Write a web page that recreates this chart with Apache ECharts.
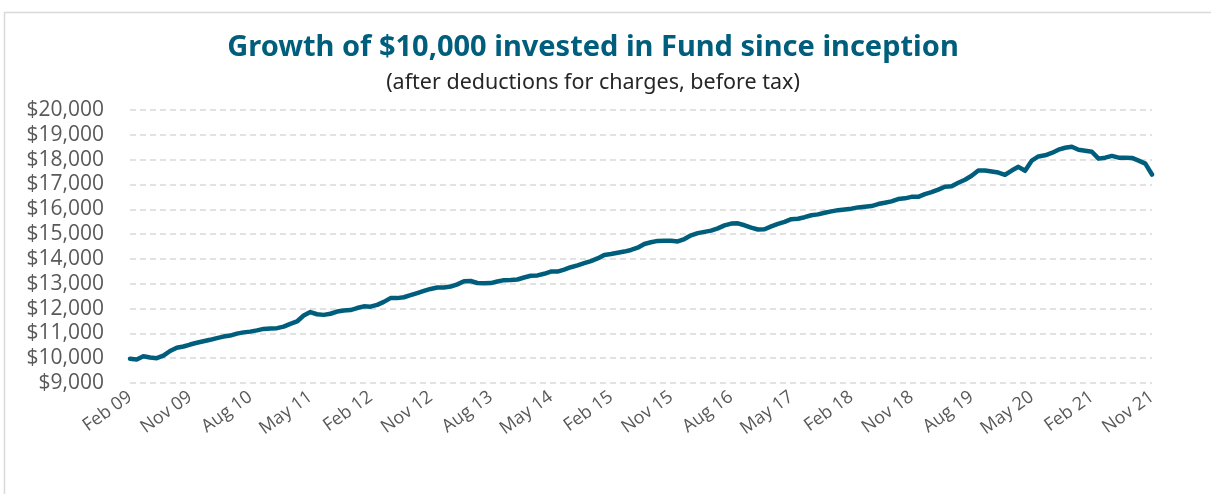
<!DOCTYPE html>
<html>
<head>
<meta charset="utf-8">
<script src="https://cdn.jsdelivr.net/npm/echarts@6/dist/echarts.min.js"></script>
<style>
  html, body { margin: 0; padding: 0; background: #ffffff; }
  #chart { width: 1211px; height: 494px; }
</style>
</head>
<body>
<div id="chart"></div>
<script>
// monthly, Feb 09 .. Nov 21
var monthNames = ['Jan', 'Feb', 'Mar', 'Apr', 'May', 'Jun', 'Jul', 'Aug', 'Sep', 'Oct', 'Nov', 'Dec'];
var firstYear = 2009, firstMonth = 1;

var fundValues = [
  9980, 9950, 10080, 10030, 10000, 10100, 10290, 10420, 10470, 10550,
  10620, 10680, 10740, 10810, 10870, 10910, 10990, 11040, 11070, 11120,
  11180, 11200, 11210, 11270, 11380, 11480, 11720, 11860, 11770, 11745,
  11790, 11880, 11925, 11940, 12020, 12090, 12075, 12150, 12270, 12420,
  12420, 12455, 12540, 12625, 12710, 12790, 12845, 12850, 12885, 12975,
  13100, 13110, 13030, 13015, 13025, 13090, 13145, 13150, 13170, 13250,
  13320, 13335, 13400, 13490, 13490, 13570, 13665, 13740, 13830, 13910,
  14020, 14160, 14195, 14250, 14295, 14360, 14450, 14600, 14670, 14725,
  14730, 14730, 14705, 14800, 14950, 15040, 15090, 15140, 15230, 15350,
  15425, 15435, 15355, 15260, 15185, 15195, 15310, 15410, 15490, 15600,
  15620, 15680, 15760, 15795, 15860, 15915, 15965, 15995, 16025, 16075,
  16105, 16130, 16210, 16265, 16320, 16410, 16440, 16500, 16500, 16610,
  16690, 16790, 16910, 16930, 17070, 17190, 17350, 17560, 17560, 17520,
  17480, 17390, 17560, 17710, 17550, 17960, 18130, 18175, 18270, 18400,
  18480, 18520, 18400, 18360, 18320, 18040, 18080, 18150, 18080, 18080,
  18070, 17960, 17840, 17400
];

var yMin = 9000, yMax = 20000, yStep = 1000;

var categories = [];
for (var i = 0; i < fundValues.length; i++) {
  var m = (firstMonth + i) % 12;
  var y = firstYear + Math.floor((firstMonth + i) / 12);
  categories.push(monthNames[m] + ' ' + String(y).substring(2));
}

var chart = echarts.init(document.getElementById('chart'), null, { renderer: 'canvas' });

var option = {
  backgroundColor: '#ffffff',
  animation: false,
  graphic: [{
    type: 'rect',
    shape: { x: 4.5, y: 12.5, width: 1240, height: 520 },
    style: { fill: 'none', stroke: '#d9d9d9', lineWidth: 1.5 },
    silent: true
  }],
  title: [{
    text: 'Growth of $10,000 invested in Fund since inception',
    left: 588,
    top: 28,
    textAlign: 'center',
    textStyle: {
      fontFamily: 'Noto Sans',
      fontWeight: 'bold',
      fontSize: 29,
      color: '#005e7d'
    }
  }, {
    text: '(after deductions for charges, before tax)',
    left: 588,
    top: 67,
    textAlign: 'center',
    textStyle: {
      fontFamily: 'Noto Sans',
      fontWeight: 'normal',
      fontSize: 21.5,
      color: '#262626'
    }
  }],
  grid: {
    left: 130,
    right: 59,
    top: 110,
    bottom: 111,
    containLabel: false
  },
  xAxis: {
    type: 'category',
    data: categories,
    boundaryGap: false,
    axisLine: { show: false },
    axisTick: { show: false },
    axisLabel: {
      interval: 8,
      rotate: 36,
      margin: 12,
      fontFamily: 'Open Sans',
      fontSize: 18,
      color: '#595959'
    },
    splitLine: { show: false }
  },
  yAxis: {
    type: 'value',
    min: yMin,
    max: yMax,
    interval: yStep,
    axisLine: { show: false },
    axisTick: { show: false },
    axisLabel: {
      margin: 26,
      fontFamily: 'Open Sans',
      fontSize: 21,
      color: '#595959',
      formatter: function (v) {
        return '$' + v.toLocaleString('en-US');
      }
    },
    splitLine: {
      show: true,
      lineStyle: { color: '#d9d9d9', width: 1.5, type: [6, 4] }
    }
  },
  series: [{
    name: 'Fund',
    type: 'line',
    data: fundValues,
    showSymbol: false,
    smooth: false,
    lineStyle: { color: '#005e7d', width: 4.5, cap: 'round', join: 'round' },
    itemStyle: { color: '#005e7d' }
  }]
};

chart.setOption(option);
</script>
</body>
</html>
